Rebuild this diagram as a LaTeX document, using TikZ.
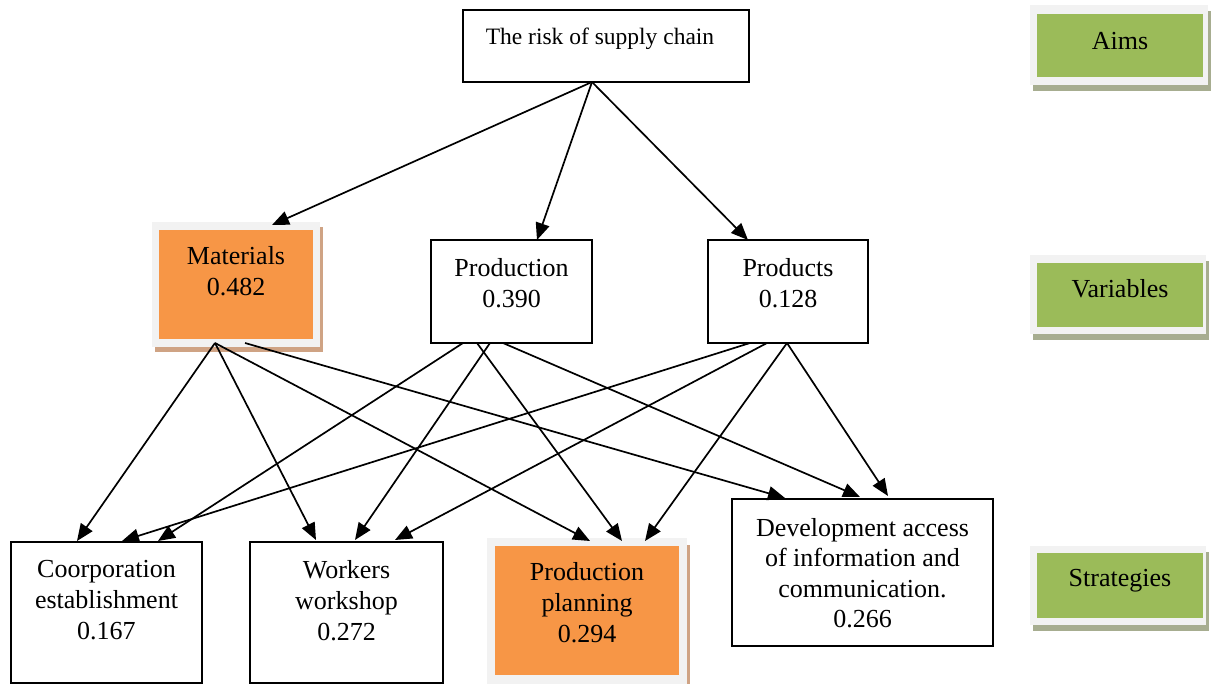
\documentclass[tikz,border=0pt]{standalone}
\usepackage{fontspec}
\setmainfont{Liberation Serif}
\usetikzlibrary{arrows.meta,calc}
\definecolor{orangef}{HTML}{F79646}
\definecolor{greenf}{HTML}{9BBB59}
\definecolor{framec}{HTML}{F2F2F2}
\definecolor{shadowo}{HTML}{CFA384}
\definecolor{shadowg}{HTML}{A7AD90}
\begin{document}
\begin{tikzpicture}[x=1pt,y=-1pt,
  box/.style={draw=black,line width=1.8pt,fill=white,inner sep=0pt,outer sep=0pt},
  plate/.style={fill=#1,inner sep=0pt,outer sep=0pt,draw=none},
  lbl/.style={font=\fontsize{26}{31}\selectfont,align=center,inner sep=0pt},
  conn/.style={line width=1.7pt,-{Triangle[length=17pt,width=14pt]}}
]
\useasboundingbox (0,0) rectangle (1213,684);
\fill[white] (0,0) rectangle (1213,684);

% ---------- top box
\node[box,minimum width=286pt,minimum height=72pt] (top) at (606,46) {};
\node[lbl,font=\fontsize{23.5}{28}\selectfont] (toptxt) at (600,39) {The risk of supply chain};

% ---------- variables
\node[plate=shadowo,minimum width=168pt,minimum height=125pt] (matsh) at (239,289.5) {};
\node[plate=framec,minimum width=168pt,minimum height=125pt] (mat) at (236,284.5) {};
\node[plate=orangef,minimum width=154pt,minimum height=109pt] (matin) at (236,284.5) {};
\node[lbl] (mattxt) at (236,271) {Materials\\0.482};

\node[box,minimum width=161pt,minimum height=103pt] (prod) at (511.5,291.5) {};
\node[lbl] (prodtxt) at (511.5,283) {Production\\0.390};

\node[box,minimum width=160pt,minimum height=103pt] (prods) at (788,291.5) {};
\node[lbl] (prodstxt) at (788,283) {Products\\0.128};

% ---------- strategies
\node[box,minimum width=191pt,minimum height=141pt] (coop) at (106.5,612.5) {};
\node[lbl] (cooptxt) at (106.5,600.5) {Coorporation\\establishment\\0.167};

\node[box,minimum width=193pt,minimum height=141pt] (work) at (346.5,612.5) {};
\node[lbl] (worktxt) at (346.5,600.5) {Workers\\workshop\\0.272};

\node[plate=shadowo,minimum width=200pt,minimum height=150pt] (plansh) at (590,620) {};
\node[plate=framec,minimum width=200pt,minimum height=150pt] (plan) at (587,613) {};
\node[plate=orangef,minimum width=184pt,minimum height=129pt] (planin) at (587,610.5) {};
\node[lbl] (plantxt) at (587,602.5) {Production\\planning\\0.294};

\node[box,minimum width=261pt,minimum height=147pt] (dev) at (862.5,572.5) {};
\node[lbl,font=\fontsize{26}{30.5}\selectfont] (devtxt) at (862.5,573) {Development access\\of information and\\communication.\\0.266};

% ---------- legend boxes
\node[plate=shadowg,minimum width=178pt,minimum height=80pt] (aimssh) at (1122,51) {};
\node[plate=framec,minimum width=178pt,minimum height=80pt] (aims) at (1119,45) {};
\node[plate=greenf,minimum width=166pt,minimum height=63pt] (aimsin) at (1120,45.5) {};
\node[lbl] (aimstxt) at (1120,41) {Aims};

\node[plate=shadowg,minimum width=176pt,minimum height=79pt] (varssh) at (1121,300.5) {};
\node[plate=framec,minimum width=176pt,minimum height=79pt] (vars) at (1118,294.5) {};
\node[plate=greenf,minimum width=166pt,minimum height=64pt] (varsin) at (1120,295) {};
\node[lbl] (varstxt) at (1120,289) {Variables};

\node[plate=shadowg,minimum width=176pt,minimum height=79pt] (stratsh) at (1121,591.5) {};
\node[plate=framec,minimum width=176pt,minimum height=79pt] (strat) at (1118,585.5) {};
\node[plate=greenf,minimum width=166pt,minimum height=65pt] (stratin) at (1120,585.5) {};
\node[lbl] (strattxt) at (1120,581) {Strategies};

% ---------- connectors
\draw[conn] ($(top.south west)+(129,0)$) -- ($(mat.north west)+(120,3)$);
\draw[conn] ($(top.south west)+(129,0)$) -- ($(prod.north west)+(106,0)$);
\draw[conn] ($(top.south west)+(129,0)$) -- ($(prods.north west)+(40,0)$);

\draw[conn] ($(mat.south west)+(63,-4)$) -- ($(coop.north west)+(66,-1)$);
\draw[conn] ($(mat.south west)+(63,-4)$) -- ($(work.north west)+(66,-2)$);
\draw[conn] ($(mat.south west)+(63,-4)$) -- ($(plan.north west)+(103,3)$);
\draw[conn] ($(mat.south west)+(93,-4)$) -- ($(dev.north west)+(53,-1)$);

\draw[conn] ($(prod.south west)+(32,0)$) -- ($(coop.north west)+(147,-1)$);
\draw[conn] ($(prod.south west)+(46,0)$) -- ($(plan.north west)+(135,3)$);
\draw[conn] ($(prod.south west)+(59,0)$) -- ($(work.north west)+(105,-2)$);
\draw[conn] ($(prod.south west)+(72,0)$) -- ($(dev.north west)+(128,-2)$);

\draw[conn] ($(prods.south west)+(42,0)$) -- ($(coop.north west)+(111,-1)$);
\draw[conn] ($(prods.south west)+(59,0)$) -- ($(work.north west)+(145,-2)$);
\draw[conn] ($(prods.south west)+(79,0)$) -- ($(plan.north west)+(158,3)$);
\draw[conn] ($(prods.south west)+(79,0)$) -- ($(dev.north west)+(156,-3)$);
\end{tikzpicture}
\end{document}
